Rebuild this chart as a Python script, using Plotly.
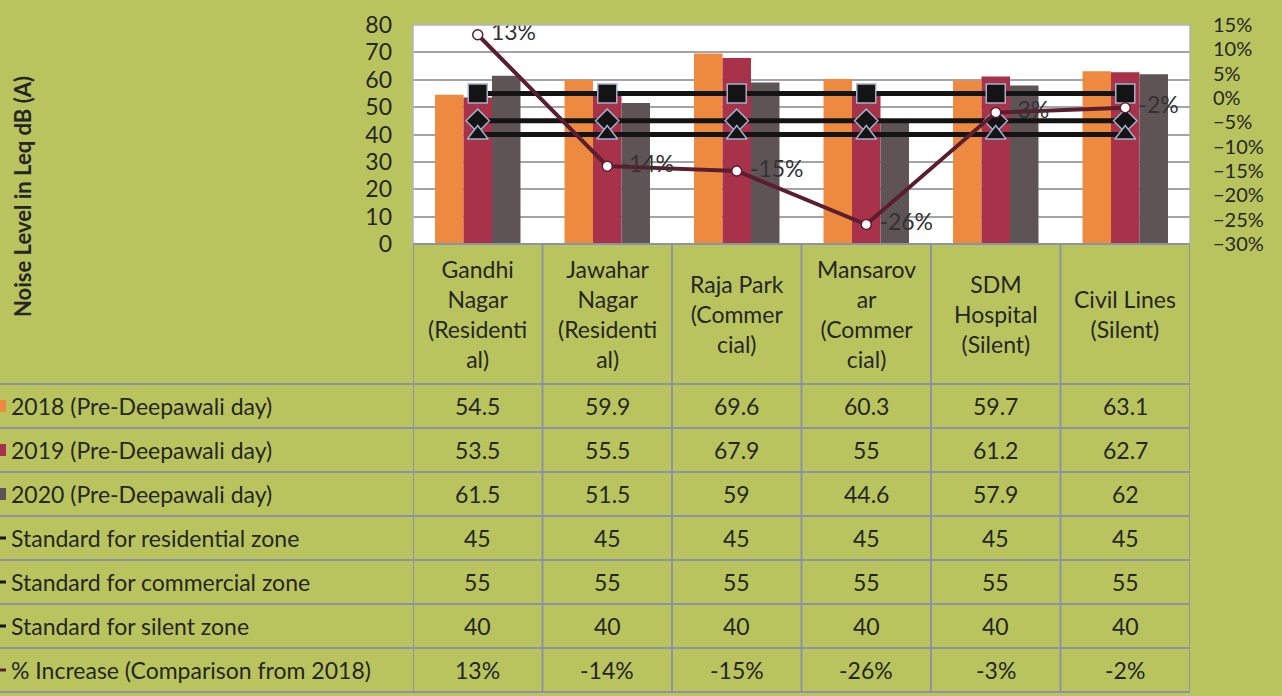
import plotly.graph_objects as go

# ---------------- data ----------------
categories = ["Gandhi Nagar (Residential)", "Jawahar Nagar (Residential)",
              "Raja Park (Commercial)", "Mansarovar (Commercial)",
              "SDM Hospital (Silent)", "Civil Lines (Silent)"]
category_labels = ["Gandhi<br>Nagar<br>(Residenti<br>al)",
                   "Jawahar<br>Nagar<br>(Residenti<br>al)",
                   "Raja Park<br>(Commer<br>cial)",
                   "Mansarov<br>ar<br>(Commer<br>cial)",
                   "SDM<br>Hospital<br>(Silent)",
                   "Civil Lines<br>(Silent)"]
y2018 = [54.5, 59.9, 69.6, 60.3, 59.7, 63.1]
y2019 = [53.5, 55.5, 67.9, 55, 61.2, 62.7]
y2020 = [61.5, 51.5, 59, 44.6, 57.9, 62]
std_residential = [45, 45, 45, 45, 45, 45]
std_commercial = [55, 55, 55, 55, 55, 55]
std_silent = [40, 40, 40, 40, 40, 40]
pct_increase = [0.13, -0.14, -0.15, -0.26, -0.03, -0.02]

series_names = ["2018 (Pre-Deepawali day)", "2019 (Pre-Deepawali day)",
                "2020 (Pre-Deepawali day)", "Standard for residential zone",
                "Standard for commercial zone", "Standard for silent zone",
                "% Increase (Comparison from 2018)"]

left_ticks = [0, 10, 20, 30, 40, 50, 60, 70, 80]
right_ticks = [-0.30, -0.25, -0.20, -0.15, -0.10, -0.05, 0, 0.05, 0.10, 0.15]

# ---------------- styling ----------------
W, H = 1282, 696
FONT = "Lato, 'Open Sans', sans-serif"
TXT = "#262626"
BG = "#b9c45e"
GRID = "#a3a3aa"
TABLE_LINE = "#8d93a3"
C2018, C2019, C2020 = "#ee8a3f", "#a8324a", "#5e5456"
LINE_BLACK = "#141414"
PCT_COLOR = "#5a1e2e"


def px_x(x):
    return x / W


def px_y(y):
    return 1 - y / H


plot_left, plot_right = 413, 1190
plot_top, plot_bottom = 25, 244
table_top = 384
row_h = 44

fig = go.Figure()

for vals, name, col in [(y2018, series_names[0], C2018),
                        (y2019, series_names[1], C2019),
                        (y2020, series_names[2], C2020)]:
    fig.add_trace(go.Bar(x=categories, y=vals, name=name, marker_color=col,
                         marker_line_width=0))

marker_outline = dict(color="#9fb2cc", width=1.5)
for vals, name, sym, size in [(std_commercial, series_names[4], "square", 19),
                              (std_residential, series_names[3], "diamond", 18),
                              (std_silent, series_names[5], "triangle-up", 18)]:
    fig.add_trace(go.Scatter(x=categories, y=vals, name=name, mode="lines+markers",
                             line=dict(color=LINE_BLACK, width=5),
                             marker=dict(symbol=sym, size=size, color=LINE_BLACK,
                                         line=marker_outline)))

fig.add_trace(go.Scatter(x=categories, y=pct_increase, name=series_names[6],
                         yaxis="y2", mode="lines+markers+text",
                         line=dict(color=PCT_COLOR, width=4),
                         marker=dict(symbol="circle", size=10, color="white",
                                     line=dict(color=PCT_COLOR, width=1.5)),
                         texttemplate=" %{y:.0%}", textposition="middle right",
                         textfont=dict(family=FONT, size=23, color="#333333")))

shapes = []
annotations = []

# plot area border
shapes.append(dict(type="rect", xref="paper", yref="paper", x0=px_x(plot_left),
                   x1=px_x(plot_right), y0=px_y(plot_bottom), y1=px_y(plot_top),
                   line=dict(color="#b4b4bc", width=1.5), layer="above"))
# table vertical lines (category boundaries)
for i in range(len(categories) + 1):
    shapes.append(dict(type="line", xref="x", yref="paper", x0=i - 0.5, x1=i - 0.5,
                       y0=px_y(plot_bottom), y1=px_y(table_top + row_h * len(series_names)),
                       line=dict(color=TABLE_LINE, width=2)))
# table horizontal lines
for r in range(len(series_names) + 1):
    yy = px_y(table_top + r * row_h)
    shapes.append(dict(type="line", xref="paper", yref="paper", x0=0, x1=px_x(plot_right),
                       y0=yy, y1=yy, line=dict(color=TABLE_LINE, width=2)))
shapes.append(dict(type="line", xref="paper", yref="paper", x0=px_x(plot_left),
                   x1=px_x(plot_right), y0=px_y(plot_bottom), y1=px_y(plot_bottom),
                   line=dict(color=TABLE_LINE, width=2)))

# category headers
for c, lab in zip(categories, category_labels):
    annotations.append(dict(x=c, xref="x", y=px_y((plot_bottom + table_top) / 2),
                            yref="paper", yanchor="middle", xanchor="center",
                            text=lab, showarrow=False,
                            font=dict(family=FONT, size=23, color=TXT), align="center"))


def fmt(v):
    return f"{v:g}"


rows = [[fmt(v) for v in y2018], [fmt(v) for v in y2019], [fmt(v) for v in y2020],
        [fmt(v) for v in std_residential], [fmt(v) for v in std_commercial],
        [fmt(v) for v in std_silent], [f"{round(v * 100)}%" for v in pct_increase]]

key_colors = [C2018, C2019, C2020, LINE_BLACK, LINE_BLACK, LINE_BLACK, PCT_COLOR]
for r, (name, vals) in enumerate(zip(series_names, rows)):
    yc = table_top + r * row_h + row_h / 2
    annotations.append(dict(x=px_x(9), xref="paper", y=px_y(yc), yref="paper",
                            text=name, showarrow=False, xanchor="left", yanchor="middle",
                            font=dict(family=FONT, size=23, color=TXT)))
    if r < 3:
        shapes.append(dict(type="rect", xref="paper", yref="paper", x0=px_x(-2),
                           x1=px_x(6), y0=px_y(yc + 6), y1=px_y(yc - 6),
                           fillcolor=key_colors[r], line_width=0))
    else:
        shapes.append(dict(type="line", xref="paper", yref="paper", x0=px_x(-2),
                           x1=px_x(6), y0=px_y(yc), y1=px_y(yc),
                           line=dict(color=key_colors[r], width=3)))
    for c, v in zip(categories, vals):
        annotations.append(dict(x=c, xref="x", y=px_y(yc), yref="paper", text=v,
                                showarrow=False, xanchor="center", yanchor="middle",
                                font=dict(family=FONT, size=23, color=TXT)))

# y axis title
annotations.append(dict(x=px_x(22), xref="paper", y=px_y(197), yref="paper",
                        xanchor="center", yanchor="middle",
                        text="<b>Noise Level in Leq dB (A)</b>", textangle=-90,
                        showarrow=False, font=dict(family=FONT, size=22, color=TXT)))

fig.update_layout(
    width=W, height=H,
    margin=dict(l=0, r=0, t=0, b=0, autoexpand=False),
    paper_bgcolor=BG, plot_bgcolor="white",
    showlegend=False,
    barmode="group", bargap=0.34, bargroupgap=0,
    font=dict(family=FONT, size=23, color=TXT),
    xaxis=dict(domain=[px_x(plot_left), px_x(plot_right)], range=[-0.5, 5.5],
               showticklabels=False, ticks="", showgrid=False, zeroline=False,
               showline=False, automargin=False),
    yaxis=dict(domain=[px_y(plot_bottom), px_y(plot_top)], range=[0, 80],
               tickvals=left_ticks, showgrid=True, gridcolor=GRID, gridwidth=1.5,
               zeroline=False, showline=False, automargin=False,
               ticks="", ticklabelstandoff=20,
               tickfont=dict(family=FONT, size=23, color=TXT)),
    yaxis2=dict(overlaying="y", side="right", range=[-0.30, 0.15],
                tickvals=right_ticks, tickformat=".0%", showgrid=False,
                zeroline=False, showline=False, automargin=False,
                ticks="", ticklabelstandoff=22,
                tickfont=dict(family=FONT, size=20, color=TXT)),
    shapes=shapes, annotations=annotations,
)

fig.write_html("out.html", config={"displayModeBar": False},
               post_script="document.body.style.margin='0';"
                           "document.body.style.overflow='hidden';")
